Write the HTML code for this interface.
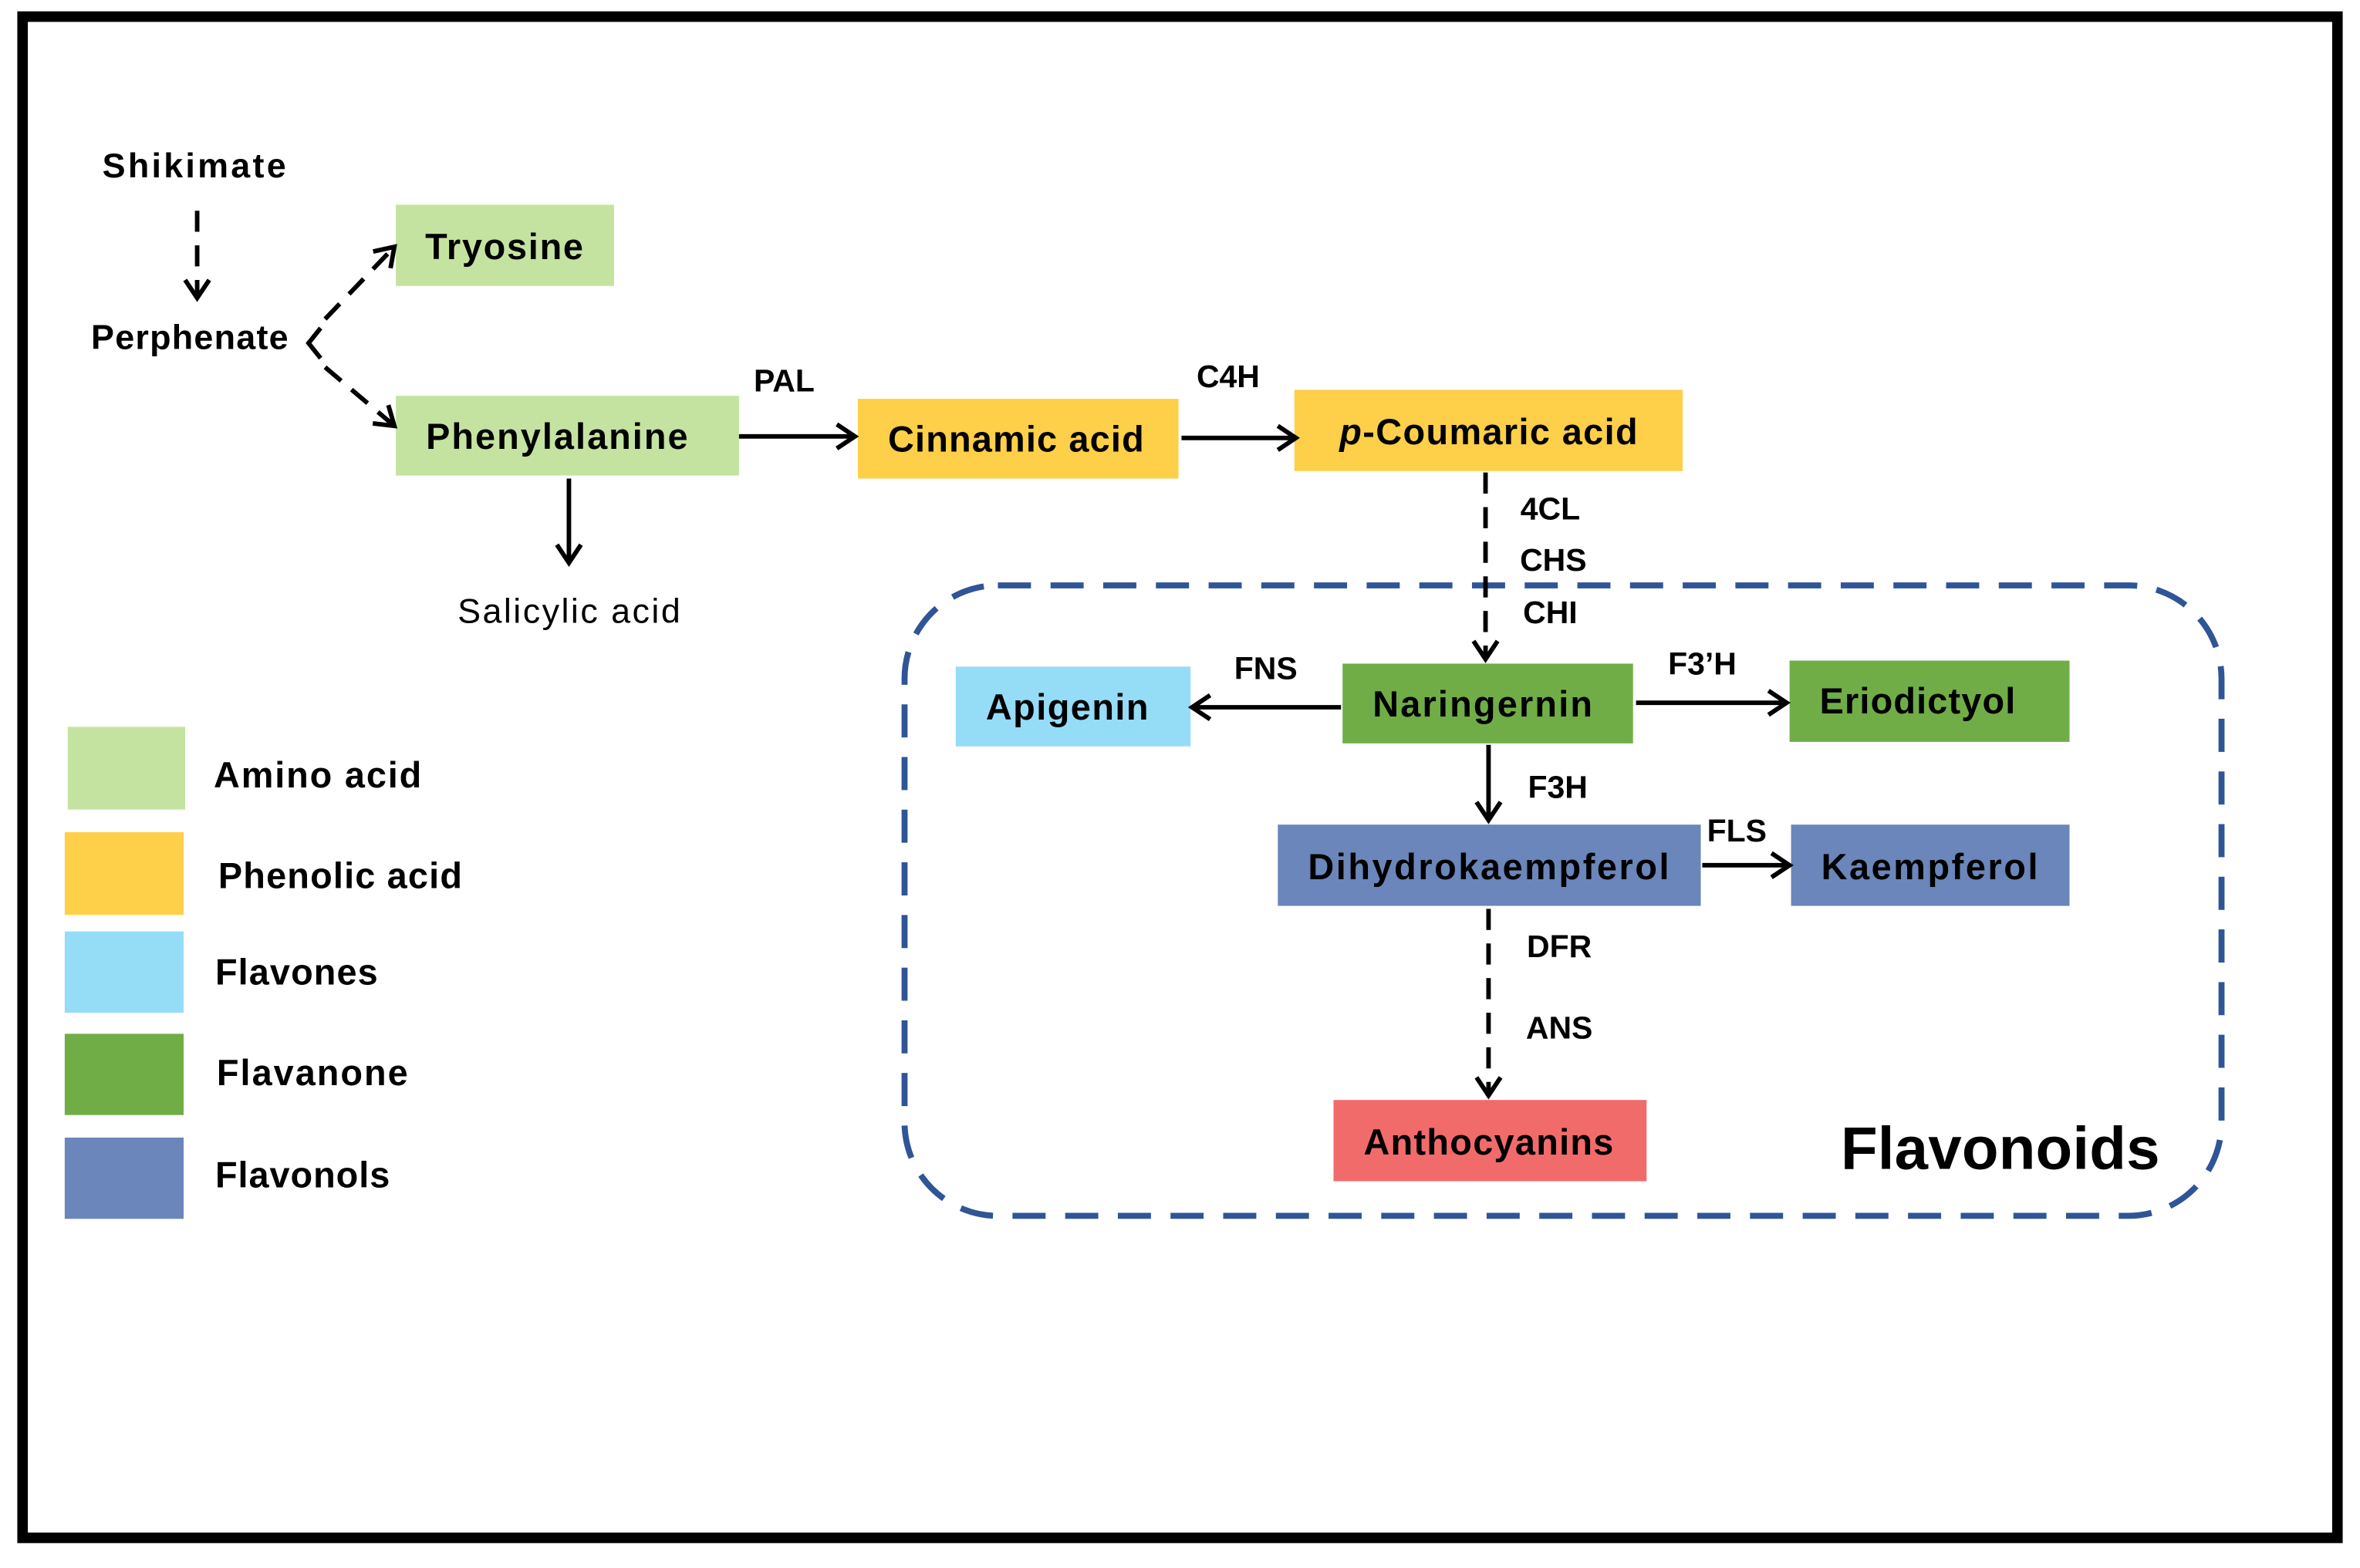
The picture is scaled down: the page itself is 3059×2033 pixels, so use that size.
<!DOCTYPE html>
<html><head><meta charset="utf-8"><style>
html,body{margin:0;padding:0;background:#fff;}
svg{display:block;}
text{font-family:"Liberation Sans",sans-serif;font-weight:bold;fill:#000;}
</style></head><body>
<svg width="3059" height="2033" viewBox="0 0 1568 1042" xmlns="http://www.w3.org/2000/svg">
<defs>
<marker id="a" markerWidth="20" markerHeight="20" refX="14" refY="10" orient="auto" markerUnits="userSpaceOnUse">
<path d="M2,2 L14,10 L2,18" fill="none" stroke="#000" stroke-width="3"/>
</marker>
</defs>
<rect x="0" y="0" width="1568" height="1042" fill="#fff"/>
<rect x="15" y="11" width="1538" height="1011" fill="none" stroke="#000" stroke-width="7"/>

<rect x="601" y="389" width="875" height="419" rx="62" fill="none" stroke="#2f5597" stroke-width="4" stroke-dasharray="22,13"/>

<rect x="263" y="136" width="145" height="54" fill="#c5e3a0"/>
<rect x="263" y="263" width="228" height="53" fill="#c5e3a0"/>
<rect x="570" y="265" width="213" height="53" fill="#fecf48"/>
<rect x="860" y="259" width="258" height="54" fill="#fecf48"/>
<rect x="635" y="443" width="156" height="53" fill="#95dcf7"/>
<rect x="892" y="441" width="193" height="53" fill="#70ad47"/>
<rect x="1189" y="439" width="186" height="54" fill="#70ad47"/>
<rect x="849" y="548" width="281" height="54" fill="#6a86ba"/>
<rect x="1190" y="548" width="185" height="54" fill="#6a86ba"/>
<rect x="886" y="731" width="208" height="54" fill="#f26b6b"/>

<rect x="45" y="483" width="78" height="55" fill="#c5e3a0"/>
<rect x="43" y="553" width="79" height="55" fill="#fecf48"/>
<rect x="43" y="619" width="79" height="54" fill="#95dcf7"/>
<rect x="43" y="687" width="79" height="54" fill="#70ad47"/>
<rect x="43" y="756" width="79" height="54" fill="#6a86ba"/>

<g fill="none" stroke="#000" stroke-width="3">
<line x1="131" y1="140" x2="131" y2="198" stroke-dasharray="14,9" marker-end="url(#a)"/>
<line x1="216" y1="212" x2="262" y2="164" stroke-dasharray="14,9" marker-end="url(#a)"/>
<line x1="216" y1="244" x2="262" y2="283" stroke-dasharray="14,9" marker-end="url(#a)"/>
<path d="M213,218 L205,228 L213,238"/>
<line x1="491" y1="290" x2="568" y2="290" marker-end="url(#a)"/>
<line x1="785" y1="291" x2="861" y2="291" marker-end="url(#a)"/>
<line x1="378" y1="318" x2="378" y2="374" marker-end="url(#a)"/>
<line x1="987" y1="314" x2="987" y2="438" stroke-dasharray="14,9" marker-end="url(#a)"/>
<line x1="891" y1="470" x2="792" y2="470" marker-end="url(#a)"/>
<line x1="1087" y1="467" x2="1187" y2="467" marker-end="url(#a)"/>
<line x1="989" y1="495" x2="989" y2="545" marker-end="url(#a)"/>
<line x1="1131" y1="575" x2="1189" y2="575" marker-end="url(#a)"/>
<line x1="989" y1="604" x2="989" y2="728" stroke-dasharray="14,9" marker-end="url(#a)"/>
</g>

<g font-size="23" text-anchor="middle" dominant-baseline="central">
<text x="129" y="110" textLength="122">Shikimate</text>
<text x="126" y="224" textLength="131">Perphenate</text>
<text x="335" y="164" font-size="24" textLength="105">Tryosine</text>
<text x="370" y="290" font-size="24" textLength="174">Phenylalanine</text>
<text x="675" y="292" font-size="24" textLength="170">Cinnamic acid</text>
<text x="989" y="287" font-size="24" textLength="198"><tspan font-style="italic">p</tspan>-Coumaric acid</text>
<text x="378" y="406" style="font-weight:normal" textLength="148">Salicylic acid</text>
<text x="521" y="253" font-size="21">PAL</text>
<text x="816" y="250" font-size="21">C4H</text>
<text x="1030" y="338" font-size="21">4CL</text>
<text x="1032" y="372" font-size="21">CHS</text>
<text x="1030" y="407" font-size="21">CHI</text>
<text x="709" y="470" font-size="24" textLength="108">Apigenin</text>
<text x="985" y="468" font-size="24" textLength="146">Naringernin</text>
<text x="1274" y="466" font-size="24" textLength="130">Eriodictyol</text>
<text x="841" y="444" font-size="21">FNS</text>
<text x="1131" y="441" font-size="21">F3’H</text>
<text x="1035" y="523" font-size="21">F3H</text>
<text x="1154" y="552" font-size="21">FLS</text>
<text x="989" y="576" font-size="24" textLength="240">Dihydrokaempferol</text>
<text x="1282" y="576" font-size="24" textLength="144">Kaempferol</text>
<text x="1036" y="629" font-size="21">DFR</text>
<text x="1036" y="683" font-size="21">ANS</text>
<text x="989" y="759" font-size="24" textLength="166">Anthocyanins</text>
<text x="1329" y="763" font-size="40" textLength="212">Flavonoids</text>
</g>
<g font-size="24" dominant-baseline="central">
<text x="142" y="515" textLength="138">Amino acid</text>
<text x="145" y="582" textLength="162">Phenolic acid</text>
<text x="143" y="646" textLength="108">Flavones</text>
<text x="144" y="713" textLength="127">Flavanone</text>
<text x="143" y="781" textLength="116">Flavonols</text>
</g>
</svg>
</body></html>
